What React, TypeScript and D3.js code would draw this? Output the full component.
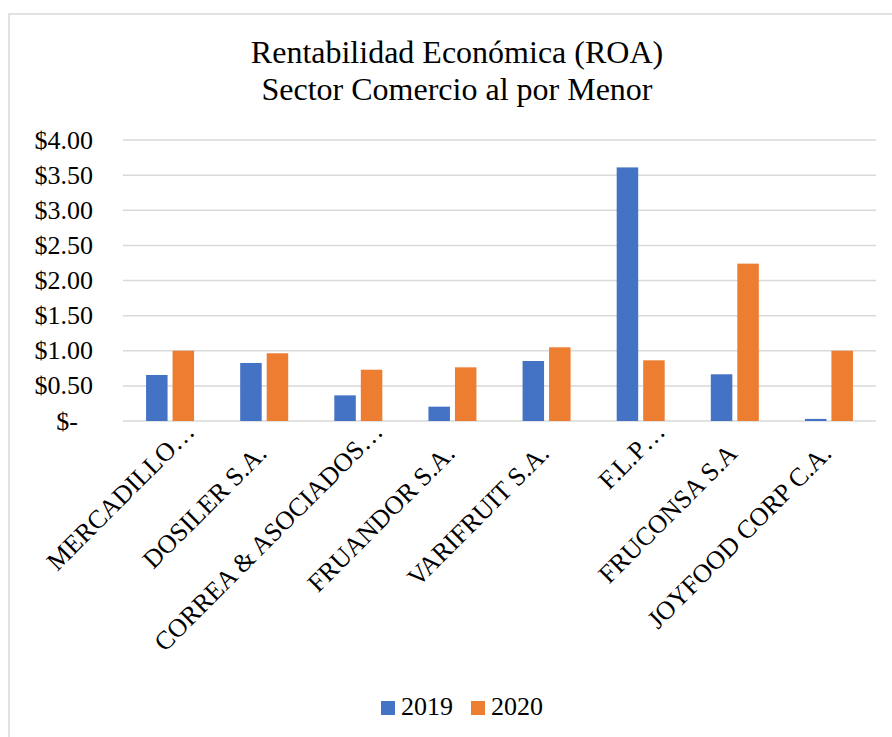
import React from "react";
import * as d3 from "d3";

const categories = [
  "MERCADILLO…",
  "DOSILER S.A.",
  "CORREA & ASOCIADOS…",
  "FRUANDOR S.A.",
  "VARIFRUIT S.A.",
  "F.L.P…",
  "FRUCONSA S.A",
  "JOYFOOD CORP C.A.",
];
const values2019 = [0.655, 0.826, 0.365, 0.204, 0.854, 3.61, 0.665, 0.03];
const values2020 = [1.0, 0.964, 0.73, 0.764, 1.049, 0.864, 2.24, 1.0];
const seriesNames = ["2019", "2020"];
const yTicks = [0, 0.5, 1, 1.5, 2, 2.5, 3, 3.5, 4];
const titleLines = ["Rentabilidad Económica (ROA)", "Sector Comercio al por Menor"];

const W = 892;
const H = 737;
const FONT = '"Liberation Serif", "Times New Roman", serif';
const COLORS = ["#4472C4", "#ED7D31"];
const GRID = "#d9d9d9";

export default function App() {
  const x = d3.scaleBand<string>().domain(categories).range([123, 876]).padding(0);
  const y = d3.scaleLinear().domain([0, 4]).range([421, 140]);
  const barW = 21.5;
  const gap = 5;
  const series = [values2019, values2020];
  const fmt = (v: number) => (v === 0 ? "$-" : "$" + d3.format(".2f")(v));

  return (
    <svg
      width={W}
      height={H}
      style={{ position: "absolute", left: 0, top: 0, background: "#fff", fontFamily: FONT }}
    >
      <rect x={0} y={0} width={W} height={H} fill="#fff" />
      {/* chart border */}
      <path d={`M9,${H + 2} V14 H${W + 2}`} fill="none" stroke={GRID} strokeWidth={1.5} />

      {/* title */}
      {titleLines.map((t, i) => (
        <text key={i} x={457} y={63 + i * 37} textAnchor="middle" fontSize={32} fill="#000">
          {t}
        </text>
      ))}

      {/* gridlines */}
      {yTicks.map((t) => (
        <line key={t} x1={123} x2={876} y1={y(t)} y2={y(t)} stroke={GRID} strokeWidth={1.5} />
      ))}

      {/* y tick labels */}
      {yTicks.map((t) => (
        <text
          key={"l" + t}
          x={t === 0 ? 78 : 93}
          y={y(t)}
          dy="0.33em"
          textAnchor="end"
          fontSize={26}
          fill="#000"
        >
          {fmt(t)}
        </text>
      ))}

      {/* bars */}
      {series.map((vals, si) =>
        vals.map((v, i) => {
          const c = (x(categories[i]) as number) + x.bandwidth() / 2;
          const bx = si === 0 ? c - gap / 2 - barW : c + gap / 2;
          return (
            <rect
              key={si + "-" + i}
              x={bx}
              y={y(v)}
              width={barW}
              height={y(0) - y(v)}
              fill={COLORS[si]}
            />
          );
        })
      )}

      {/* x labels */}
      {categories.map((cat) => {
        const c = (x(cat) as number) + x.bandwidth() / 2;
        const trunc = cat.endsWith("…");
        const ex = trunc ? c + 26 : c + 4;
        const ey = trunc ? 433 : 455;
        return (
          <text
            key={cat}
            transform={`translate(${ex},${ey}) rotate(-45)`}
            textAnchor="end"
            fontSize={26}
            fill="#000"
          >
            {cat}
          </text>
        );
      })}

      {/* legend */}
      {seriesNames.map((s, i) => (
        <g key={s} transform={`translate(${381 + i * 90},701)`}>
          <rect x={0} y={0} width={14} height={14} fill={COLORS[i]} />
          <text x={20} y={14} fontSize={26} fill="#000">
            {s}
          </text>
        </g>
      ))}
    </svg>
  );
}
